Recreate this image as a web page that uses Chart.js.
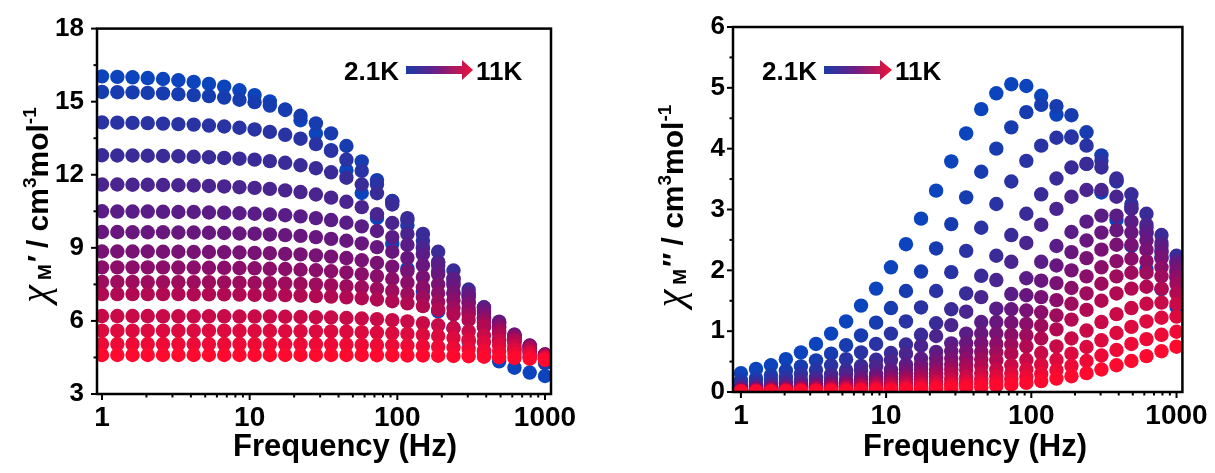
<!DOCTYPE html>
<html>
<head>
<meta charset="utf-8">
<script src="https://cdn.jsdelivr.net/npm/chart.js@4.4.1/dist/chart.umd.min.js"></script>
<style>
  html, body { margin: 0; padding: 0; background: #ffffff; }
  #wrap { position: relative; width: 1215px; height: 473px; overflow: hidden; }
  #realChart { position: absolute; left: 0; top: 0; }
  #imagChart { position: absolute; left: 607px; top: 0; }
</style>
</head>
<body>
<div id="wrap">
  <canvas id="realChart" width="607" height="473"></canvas>
  <canvas id="imagChart" width="608" height="473"></canvas>
</div>
<script>
// AC frequencies (Hz)
const frequencies = [1, 1.27, 1.61, 2.04, 2.59, 3.29, 4.18, 5.3, 6.72, 8.53, 10.8, 13.7, 17.4, 22.1, 28.1, 35.6, 45.2, 57.4, 72.8, 92.4, 117, 149, 189, 240, 304, 386, 489, 621, 788, 1000];

// In-phase susceptibility chi' (cm3 mol-1), one array per temperature, 2.1 K first, 11 K last
const chiReal01 = [16.04, 16.02, 16.00, 15.97, 15.93, 15.88, 15.81, 15.73, 15.62, 15.47, 15.27, 15.01, 14.68, 14.24, 13.69, 13.01, 12.19, 11.25, 10.23, 9.17, 8.15, 7.21, 6.39, 5.71, 5.16, 4.72, 4.34, 4.08, 3.88, 3.74];
const chiReal02 = [15.40, 15.39, 15.38, 15.36, 15.34, 15.31, 15.27, 15.23, 15.17, 15.08, 14.98, 14.84, 14.66, 14.42, 14.11, 13.70, 13.18, 12.55, 11.78, 10.91, 9.93, 8.97, 8.02, 7.15, 6.38, 5.75, 5.23, 4.82, 4.51, 4.27];
const chiReal03 = [14.15, 14.14, 14.13, 14.12, 14.10, 14.08, 14.06, 14.02, 13.98, 13.93, 13.86, 13.76, 13.64, 13.48, 13.26, 12.98, 12.62, 12.16, 11.60, 10.92, 10.14, 9.29, 8.42, 7.57, 6.79, 6.11, 5.55, 5.09, 4.73, 4.45];
const chiReal04 = [12.80, 12.79, 12.79, 12.78, 12.77, 12.76, 12.74, 12.72, 12.69, 12.66, 12.62, 12.56, 12.49, 12.39, 12.27, 12.10, 11.88, 11.60, 11.24, 10.78, 10.22, 9.57, 8.84, 8.07, 7.29, 6.56, 5.91, 5.35, 4.89, 4.53];
const chiReal05 = [11.60, 11.60, 11.59, 11.59, 11.58, 11.57, 11.56, 11.54, 11.52, 11.49, 11.46, 11.42, 11.36, 11.29, 11.19, 11.06, 10.89, 10.67, 10.38, 10.02, 9.57, 9.03, 8.41, 7.74, 7.05, 6.38, 5.76, 5.22, 4.77, 4.41];
const chiReal06 = [10.50, 10.49, 10.49, 10.49, 10.48, 10.47, 10.47, 10.45, 10.44, 10.42, 10.40, 10.37, 10.34, 10.29, 10.22, 10.14, 10.03, 9.88, 9.69, 9.44, 9.12, 8.73, 8.27, 7.73, 7.15, 6.55, 5.97, 5.43, 4.97, 4.58];
const chiReal07 = [9.65, 9.65, 9.64, 9.64, 9.64, 9.63, 9.63, 9.62, 9.61, 9.59, 9.58, 9.55, 9.52, 9.49, 9.44, 9.37, 9.29, 9.18, 9.03, 8.84, 8.59, 8.28, 7.91, 7.46, 6.97, 6.45, 5.93, 5.43, 4.99, 4.62];
const chiReal08 = [8.85, 8.85, 8.85, 8.85, 8.84, 8.84, 8.83, 8.83, 8.82, 8.81, 8.79, 8.78, 8.75, 8.73, 8.69, 8.64, 8.58, 8.49, 8.38, 8.23, 8.04, 7.80, 7.50, 7.14, 6.73, 6.29, 5.83, 5.39, 4.98, 4.62];
const chiReal09 = [8.20, 8.20, 8.20, 8.20, 8.20, 8.19, 8.19, 8.18, 8.18, 8.17, 8.16, 8.14, 8.13, 8.10, 8.08, 8.04, 7.99, 7.92, 7.84, 7.72, 7.57, 7.38, 7.14, 6.85, 6.51, 6.13, 5.73, 5.33, 4.95, 4.61];
const chiReal10 = [7.60, 7.60, 7.60, 7.59, 7.59, 7.59, 7.59, 7.59, 7.58, 7.57, 7.56, 7.55, 7.54, 7.52, 7.50, 7.47, 7.43, 7.38, 7.32, 7.23, 7.11, 6.97, 6.78, 6.54, 6.27, 5.94, 5.60, 5.24, 4.89, 4.57];
const chiReal11 = [7.10, 7.10, 7.10, 7.10, 7.10, 7.10, 7.09, 7.09, 7.09, 7.08, 7.07, 7.07, 7.06, 7.04, 7.02, 7.00, 6.97, 6.93, 6.88, 6.81, 6.72, 6.61, 6.46, 6.27, 6.04, 5.77, 5.47, 5.16, 4.84, 4.54];
const chiReal12 = [6.20, 6.20, 6.20, 6.20, 6.19, 6.19, 6.19, 6.19, 6.19, 6.18, 6.18, 6.18, 6.17, 6.16, 6.15, 6.14, 6.12, 6.10, 6.07, 6.03, 5.98, 5.91, 5.82, 5.71, 5.57, 5.40, 5.20, 4.97, 4.74, 4.50];
const chiReal13 = [5.60, 5.60, 5.60, 5.60, 5.60, 5.60, 5.60, 5.60, 5.60, 5.59, 5.59, 5.59, 5.58, 5.58, 5.57, 5.57, 5.56, 5.54, 5.52, 5.50, 5.47, 5.43, 5.38, 5.31, 5.23, 5.12, 4.99, 4.83, 4.66, 4.47];
const chiReal14 = [5.05, 5.05, 5.05, 5.05, 5.05, 5.05, 5.05, 5.05, 5.05, 5.05, 5.05, 5.04, 5.04, 5.04, 5.04, 5.03, 5.03, 5.02, 5.01, 5.00, 4.99, 4.97, 4.94, 4.91, 4.86, 4.80, 4.74, 4.65, 4.54, 4.43];
const chiReal15 = [4.60, 4.60, 4.60, 4.60, 4.60, 4.60, 4.60, 4.60, 4.60, 4.60, 4.60, 4.60, 4.60, 4.60, 4.60, 4.60, 4.60, 4.60, 4.59, 4.59, 4.58, 4.58, 4.57, 4.56, 4.55, 4.53, 4.51, 4.48, 4.45, 4.40];

// Out-of-phase susceptibility chi'' (cm3 mol-1), same temperature order
const chiImag01 = [0.31, 0.38, 0.44, 0.54, 0.65, 0.79, 0.96, 1.16, 1.42, 1.70, 2.05, 2.43, 2.85, 3.31, 3.79, 4.25, 4.65, 4.91, 5.06, 5.03, 4.87, 4.56, 4.20, 3.75, 3.28, 2.83, 2.40, 2.02, 1.69, 1.40];
const chiImag02 = [0.19, 0.23, 0.28, 0.35, 0.42, 0.52, 0.63, 0.77, 0.93, 1.14, 1.38, 1.66, 1.98, 2.36, 2.76, 3.20, 3.62, 4.00, 4.35, 4.60, 4.72, 4.70, 4.55, 4.27, 3.89, 3.47, 3.03, 2.61, 2.22, 1.87];
const chiImag03 = [0.13, 0.16, 0.20, 0.24, 0.30, 0.36, 0.44, 0.54, 0.65, 0.79, 0.96, 1.16, 1.39, 1.66, 1.97, 2.32, 2.70, 3.09, 3.46, 3.80, 4.05, 4.18, 4.18, 4.05, 3.80, 3.46, 3.09, 2.70, 2.32, 1.97];
const chiImag04 = [0.09, 0.11, 0.13, 0.16, 0.20, 0.24, 0.29, 0.36, 0.43, 0.53, 0.64, 0.78, 0.94, 1.13, 1.36, 1.62, 1.91, 2.24, 2.58, 2.93, 3.25, 3.51, 3.69, 3.75, 3.69, 3.51, 3.25, 2.93, 2.58, 2.24];
const chiImag05 = [0.07, 0.09, 0.10, 0.13, 0.16, 0.19, 0.23, 0.29, 0.35, 0.42, 0.52, 0.63, 0.76, 0.92, 1.10, 1.32, 1.56, 1.84, 2.14, 2.45, 2.75, 3.01, 3.21, 3.32, 3.32, 3.21, 3.01, 2.75, 2.45, 2.14];
const chiImag06 = [0.05, 0.06, 0.08, 0.09, 0.11, 0.14, 0.17, 0.20, 0.25, 0.30, 0.37, 0.45, 0.55, 0.66, 0.80, 0.96, 1.15, 1.37, 1.61, 1.87, 2.14, 2.40, 2.63, 2.80, 2.90, 2.90, 2.80, 2.63, 2.40, 2.14];
const chiImag07 = [0.04, 0.05, 0.06, 0.08, 0.09, 0.11, 0.14, 0.17, 0.21, 0.25, 0.31, 0.37, 0.45, 0.55, 0.67, 0.80, 0.96, 1.15, 1.36, 1.59, 1.83, 2.08, 2.30, 2.49, 2.62, 2.66, 2.62, 2.49, 2.30, 2.08];
const chiImag08 = [0.03, 0.04, 0.05, 0.06, 0.08, 0.09, 0.11, 0.14, 0.17, 0.21, 0.25, 0.31, 0.38, 0.46, 0.55, 0.67, 0.80, 0.96, 1.14, 1.34, 1.56, 1.79, 2.00, 2.20, 2.34, 2.42, 2.42, 2.34, 2.20, 2.00];
const chiImag09 = [0.03, 0.03, 0.04, 0.05, 0.06, 0.08, 0.09, 0.11, 0.14, 0.17, 0.21, 0.25, 0.31, 0.37, 0.45, 0.55, 0.66, 0.79, 0.94, 1.12, 1.31, 1.51, 1.71, 1.90, 2.05, 2.15, 2.19, 2.15, 2.05, 1.90];
const chiImag10 = [0.02, 0.03, 0.03, 0.04, 0.05, 0.06, 0.08, 0.09, 0.11, 0.14, 0.17, 0.21, 0.25, 0.31, 0.37, 0.45, 0.54, 0.65, 0.78, 0.93, 1.09, 1.26, 1.45, 1.62, 1.78, 1.90, 1.96, 1.96, 1.90, 1.78];
const chiImag11 = [0.02, 0.02, 0.03, 0.03, 0.04, 0.05, 0.06, 0.07, 0.09, 0.11, 0.13, 0.16, 0.20, 0.24, 0.30, 0.36, 0.43, 0.52, 0.63, 0.75, 0.88, 1.03, 1.19, 1.35, 1.50, 1.62, 1.70, 1.73, 1.70, 1.62];
const chiImag12 = [0.01, 0.02, 0.02, 0.02, 0.03, 0.03, 0.04, 0.05, 0.06, 0.08, 0.09, 0.11, 0.14, 0.17, 0.21, 0.25, 0.31, 0.37, 0.44, 0.53, 0.64, 0.75, 0.88, 1.01, 1.15, 1.28, 1.38, 1.45, 1.47, 1.45];
const chiImag13 = [0.01, 0.01, 0.01, 0.02, 0.02, 0.02, 0.03, 0.04, 0.04, 0.05, 0.06, 0.08, 0.10, 0.12, 0.14, 0.17, 0.21, 0.26, 0.31, 0.37, 0.45, 0.53, 0.63, 0.74, 0.85, 0.97, 1.07, 1.16, 1.22, 1.24];
const chiImag14 = [0.01, 0.01, 0.01, 0.01, 0.01, 0.02, 0.02, 0.02, 0.03, 0.04, 0.04, 0.05, 0.06, 0.08, 0.10, 0.12, 0.14, 0.17, 0.21, 0.25, 0.30, 0.36, 0.43, 0.51, 0.60, 0.69, 0.79, 0.87, 0.94, 0.99];
const chiImag15 = [0.00, 0.00, 0.00, 0.01, 0.01, 0.01, 0.01, 0.01, 0.02, 0.02, 0.02, 0.03, 0.04, 0.04, 0.05, 0.07, 0.08, 0.10, 0.12, 0.15, 0.18, 0.22, 0.26, 0.31, 0.37, 0.44, 0.51, 0.59, 0.67, 0.745];

// Axis tick positions
const xTickValues = [1, 10, 100, 1000];
const xMinorValues = [2, 3, 4, 5, 6, 7, 8, 9, 20, 30, 40, 50, 60, 70, 80, 90, 200, 300, 400, 500, 600, 700, 800, 900];
const realTickValues = [3, 6, 9, 12, 15, 18];
const realMinorValues = [4.5, 7.5, 10.5, 13.5, 16.5];
const imagTickValues = [0, 1, 2, 3, 4, 5, 6];
const imagMinorValues = [0.5, 1.5, 2.5, 3.5, 4.5, 5.5];

// Blue (2.1 K) to red (11 K)
const seriesColors = ['#0b44bc', '#173cb0', '#2a33a4', '#3a2c98', '#4a248f', '#5a1d87', '#68177e', '#781274',
                      '#8a0e6a', '#9e0c5e', '#b20a52', '#c80a48', '#dc0a3e', '#ee0a36', '#ff0a2e'];

const realSeries = [chiReal01, chiReal02, chiReal03, chiReal04, chiReal05, chiReal06, chiReal07, chiReal08,
                    chiReal09, chiReal10, chiReal11, chiReal12, chiReal13, chiReal14, chiReal15];
const imagSeries = [chiImag01, chiImag02, chiImag03, chiImag04, chiImag05, chiImag06, chiImag07, chiImag08,
                    chiImag09, chiImag10, chiImag11, chiImag12, chiImag13, chiImag14, chiImag15];

const SANS = '"Liberation Sans", Arial, sans-serif';
const SERIF = '"Liberation Serif", "Times New Roman", serif';

// Draws several differently styled runs of text on one baseline, centred on (cx, cy)
function drawRuns(ctx, runs, cx, cy, vertical) {
  ctx.save();
  ctx.translate(cx, cy);
  if (vertical) ctx.rotate(-Math.PI / 2);
  ctx.textAlign = 'left';
  ctx.textBaseline = 'alphabetic';
  ctx.fillStyle = '#000';
  let total = 0;
  const widths = runs.map(r => { ctx.font = r.font; const w = ctx.measureText(r.text).width + (r.gap || 0); total += w; return w; });
  let x = -total / 2;
  runs.forEach((r, i) => { ctx.font = r.font; ctx.fillText(r.text, x, r.dy || 0); x += widths[i]; });
  ctx.restore();
}

function yTitleRuns(prime) {
  return [
    { text: 'χ', font: 'italic 40px ' + SERIF, gap: 5 },
    { text: 'M', font: 'bold 19px ' + SANS, dy: 3, gap: 2 },
    { text: prime, font: 'bold 30px ' + SANS, gap: 7 },
    { text: '/ cm', font: 'bold 30px ' + SANS },
    { text: '3', font: 'bold 19px ' + SANS, dy: -12 },
    { text: 'mol', font: 'bold 30px ' + SANS },
    { text: '-1', font: 'bold 19px ' + SANS, dy: -12 }
  ];
}

function decorations(cfg) {
  return {
    id: 'decorations',
    afterDraw(chart) {
      const ctx = chart.ctx, a = chart.chartArea, xs = chart.scales.x, ys = chart.scales.y;
      const seg = (x0, y0, x1, y1) => { ctx.beginPath(); ctx.moveTo(x0, y0); ctx.lineTo(x1, y1); ctx.stroke(); };
      ctx.save();
      ctx.strokeStyle = '#000';
      // outward tick marks on the bottom and left axes
      ctx.lineWidth = 2;
      xTickValues.forEach(v => { const p = xs.getPixelForValue(v); seg(p, a.bottom, p, a.bottom + 6); });
      xMinorValues.forEach(v => { const p = xs.getPixelForValue(v); seg(p, a.bottom, p, a.bottom + 3.5); });
      cfg.yTicks.forEach(v => { const p = ys.getPixelForValue(v); seg(a.left - 6, p, a.left, p); });
      cfg.yMinor.forEach(v => { const p = ys.getPixelForValue(v); seg(a.left - 3.5, p, a.left, p); });
      // plot frame
      ctx.lineWidth = 2.5;
      ctx.strokeRect(a.left, a.top, a.right - a.left, a.bottom - a.top);

      // axis titles
      drawRuns(ctx, [{ text: 'Frequency (Hz)', font: 'bold 31px ' + SANS }], cfg.xTitleX, 456, false);
      drawRuns(ctx, yTitleRuns(cfg.prime), cfg.yTitleX, cfg.yTitleY, true);

      // temperature arrow
      const L = cfg.legend;
      ctx.font = 'bold 26px ' + SANS;
      ctx.fillStyle = '#000';
      ctx.textBaseline = 'alphabetic';
      ctx.textAlign = 'right';
      ctx.fillText('2.1K', L.barStart - 7, 80);
      ctx.textAlign = 'left';
      ctx.fillText('11K', L.tip + 3, 80);
      const grad = ctx.createLinearGradient(L.barStart, 0, L.tip, 0);
      grad.addColorStop(0, '#1a3ca8');
      grad.addColorStop(0.45, '#6a1f86');
      grad.addColorStop(1, '#ee1238');
      ctx.fillStyle = grad;
      ctx.beginPath();
      ctx.moveTo(L.barStart, 66);
      ctx.lineTo(L.headStart, 66);
      ctx.lineTo(L.headStart, 60);
      ctx.lineTo(L.tip, 70);
      ctx.lineTo(L.headStart, 80);
      ctx.lineTo(L.headStart, 74);
      ctx.lineTo(L.barStart, 74);
      ctx.closePath();
      ctx.fill();
      ctx.restore();
    }
  };
}

function buildChart(canvasId, series, cfg) {
  const datasets = series.map((vals, k) => ({
    data: frequencies.map((f, i) => ({ x: f, y: vals[i] })),
    backgroundColor: seriesColors[k],
    borderWidth: 0,
    pointRadius: 7.2,
    pointHoverRadius: 7.2,
    order: series.length - k,
    clip: 0
  }));
  return new Chart(document.getElementById(canvasId), {
    type: 'scatter',
    data: { datasets },
    options: {
      responsive: false,
      animation: false,
      devicePixelRatio: 1,
      events: [],
      layout: { padding: { left: 0, top: cfg.top, right: cfg.right, bottom: 0 } },
      plugins: { legend: { display: false }, tooltip: { enabled: false } },
      scales: {
        x: {
          type: 'logarithmic',
          min: cfg.xMin,
          max: cfg.xMax,
          grid: { display: false, drawTicks: false },
          border: { display: false },
          afterBuildTicks: s => { s.ticks = xTickValues.map(v => ({ value: v })); },
          afterFit: s => { s.height = cfg.xAxisHeight; },
          ticks: {
            autoSkip: false, maxRotation: 0, minRotation: 0, padding: 7, color: '#000',
            font: { family: SANS, size: 28, weight: 'bold' },
            callback: v => String(v)
          }
        },
        y: {
          type: 'linear',
          min: cfg.yMin,
          max: cfg.yMax,
          grid: { display: false, drawTicks: false },
          border: { display: false },
          afterBuildTicks: s => { s.ticks = cfg.yTicks.map(v => ({ value: v })); },
          afterFit: s => { s.width = cfg.yAxisWidth; },
          ticks: {
            padding: cfg.yLabelPad, color: '#000',
            font: { family: SANS, size: 26, weight: 'bold' },
            callback: v => String(v)
          }
        }
      }
    },
    plugins: [decorations(cfg)]
  });
}

buildChart('realChart', realSeries, {
  top: 26, right: 56, xAxisHeight: 79, yAxisWidth: 97, yLabelPad: 13,
  xMin: 0.925, xMax: 1098, yMin: 3, yMax: 18,
  yTicks: realTickValues, yMinor: realMinorValues,
  prime: '′', xTitleX: 345, yTitleX: 48, yTitleY: 205,
  legend: { barStart: 406, headStart: 462, tip: 473 }
});

buildChart('imagChart', imagSeries, {
  top: 27, right: 26, xAxisHeight: 81, yAxisWidth: 126, yLabelPad: 8,
  xMin: 0.882, xMax: 1098, yMin: 0, yMax: 6,
  yTicks: imagTickValues, yMinor: imagMinorValues,
  prime: '″', xTitleX: 368, yTitleX: 76, yTitleY: 206,
  legend: { barStart: 217, headStart: 273, tip: 285 }
});
</script>
</body>
</html>
